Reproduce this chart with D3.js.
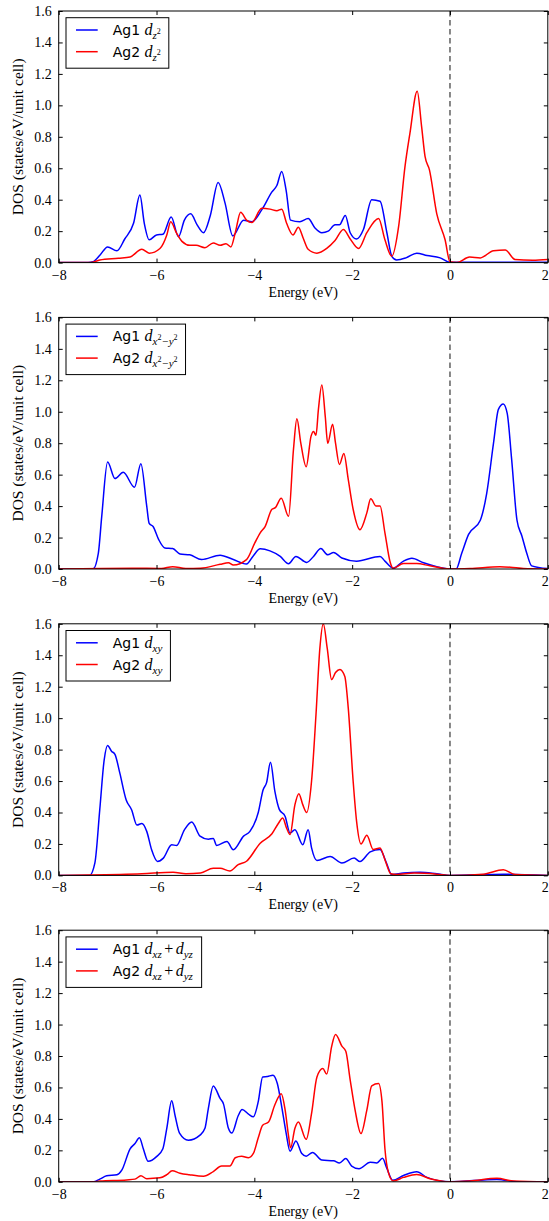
<!DOCTYPE html>
<html><head><meta charset="utf-8">
<script src="https://cdn.jsdelivr.net/npm/d3@7"></script>
<style>body{margin:0;background:#fff}svg{display:block}</style>
</head><body>
<script>
// ---------- data ----------
const energyTicks = [-8, -6, -4, -2, 0, 2];
const dosTicks = [0, 0.2, 0.4, 0.6, 0.8, 1.0, 1.2, 1.4, 1.6];
const atomNames = ["Ag1", "Ag2"];
const orbitalTex = ["d_{z^2}", "d_{x^2-y^2}", "d_{xy}", "d_{xz}+d_{yz}"];
const xLabel = "Energy (eV)";
const yLabel = "DOS (states/eV/unit cell)";

// [energy (eV), DOS]
const dz2Ag1 = [[-8,0],[-7.4,0],[-7.3,0.005],[-7.15,0.05],[-7.0,0.10],[-6.81,0.075],[-6.65,0.15],[-6.47,0.25],[-6.34,0.43],[-6.25,0.25],[-6.15,0.145],[-6.0,0.176],[-5.87,0.18],[-5.70,0.29],[-5.55,0.165],[-5.43,0.27],[-5.30,0.31],[-5.17,0.24],[-5.04,0.19],[-4.90,0.30],[-4.74,0.51],[-4.60,0.38],[-4.44,0.17],[-4.22,0.27],[-4.05,0.26],[-3.85,0.335],[-3.64,0.45],[-3.54,0.49],[-3.44,0.58],[-3.35,0.46],[-3.26,0.27],[-3.07,0.26],[-2.90,0.28],[-2.76,0.22],[-2.62,0.19],[-2.49,0.20],[-2.35,0.24],[-2.26,0.24],[-2.14,0.30],[-2.04,0.19],[-1.91,0.15],[-1.77,0.21],[-1.60,0.40],[-1.43,0.39],[-1.29,0.19],[-1.19,0.04],[-1.09,0.017],[-0.9,0.03],[-0.68,0.06],[-0.47,0.045],[-0.20,0.03],[0,0.002],[0.5,0.003],[2,0.003]];
const dz2Ag2 = [[-8,0],[-7.35,0],[-7.16,0.017],[-6.78,0.028],[-6.54,0.036],[-6.30,0.085],[-6.15,0.06],[-5.93,0.09],[-5.79,0.176],[-5.71,0.26],[-5.59,0.187],[-5.48,0.135],[-5.32,0.11],[-5.19,0.11],[-5.01,0.095],[-4.84,0.125],[-4.70,0.11],[-4.58,0.12],[-4.48,0.10],[-4.39,0.19],[-4.28,0.32],[-4.16,0.27],[-4.05,0.255],[-3.85,0.345],[-3.68,0.34],[-3.54,0.33],[-3.44,0.34],[-3.34,0.25],[-3.21,0.176],[-3.10,0.225],[-3.00,0.155],[-2.90,0.085],[-2.72,0.06],[-2.52,0.09],[-2.35,0.14],[-2.18,0.21],[-2.04,0.15],[-1.87,0.09],[-1.70,0.19],[-1.46,0.28],[-1.33,0.145],[-1.19,0.04],[-1.05,0.23],[-0.92,0.61],[-0.82,0.82],[-0.67,1.09],[-0.58,0.865],[-0.51,0.675],[-0.42,0.59],[-0.27,0.31],[-0.10,0.145],[0,0.005],[0.14,0],[0.40,0.035],[0.62,0.03],[0.89,0.076],[1.13,0.08],[1.33,0.02],[1.69,0.015],[2,0.02]];
const dx2y2Ag1 = [[-8,0],[-7.3,0],[-7.19,0.10],[-7.12,0.335],[-7.0,0.68],[-6.85,0.575],[-6.68,0.615],[-6.45,0.52],[-6.32,0.67],[-6.20,0.40],[-6.15,0.29],[-6.07,0.27],[-5.96,0.19],[-5.83,0.134],[-5.67,0.13],[-5.52,0.096],[-5.32,0.09],[-5.08,0.06],[-4.70,0.088],[-4.43,0.06],[-4.16,0.032],[-4.03,0.08],[-3.88,0.128],[-3.68,0.115],[-3.47,0.08],[-3.30,0.034],[-3.15,0.08],[-2.93,0.042],[-2.79,0.08],[-2.64,0.13],[-2.50,0.09],[-2.38,0.105],[-2.21,0.07],[-1.91,0.05],[-1.43,0.08],[-1.33,0.05],[-1.16,0.005],[-0.95,0.05],[-0.78,0.068],[-0.54,0.04],[-0.27,0.015],[0,0],[0.125,0],[0.24,0.10],[0.38,0.22],[0.62,0.31],[0.75,0.48],[0.89,0.80],[0.99,1.015],[1.09,1.05],[1.17,0.99],[1.26,0.70],[1.37,0.31],[1.47,0.21],[1.57,0.10],[1.67,0.02],[2,0.003]];
const dx2y2Ag2 = [[-8,0],[-6.5,0.005],[-5.9,0.003],[-5.67,0.015],[-5.4,0.003],[-5.1,0.005],[-4.7,0.03],[-4.53,0.04],[-4.43,0.025],[-4.16,0.06],[-3.99,0.166],[-3.88,0.23],[-3.78,0.27],[-3.64,0.38],[-3.57,0.39],[-3.45,0.45],[-3.30,0.335],[-3.20,0.76],[-3.13,0.955],[-3.05,0.80],[-2.94,0.65],[-2.84,0.845],[-2.79,0.875],[-2.74,0.85],[-2.69,1.015],[-2.62,1.17],[-2.55,0.97],[-2.50,0.80],[-2.40,0.92],[-2.34,0.80],[-2.26,0.665],[-2.17,0.735],[-2.08,0.57],[-1.98,0.38],[-1.84,0.25],[-1.70,0.357],[-1.62,0.446],[-1.51,0.40],[-1.43,0.40],[-1.33,0.23],[-1.22,0.04],[-1.16,0.005],[-0.95,0.035],[-0.68,0.035],[-0.41,0.02],[0,0],[0.41,0.003],[1.02,0.015],[1.5,0.003],[2,0]];
const dxyAg1 = [[-8,0],[-7.37,0],[-7.26,0.08],[-7.16,0.42],[-7.07,0.735],[-7.0,0.826],[-6.92,0.79],[-6.85,0.77],[-6.75,0.65],[-6.62,0.48],[-6.51,0.418],[-6.40,0.32],[-6.30,0.33],[-6.20,0.28],[-6.10,0.163],[-5.98,0.089],[-5.86,0.11],[-5.69,0.195],[-5.59,0.19],[-5.43,0.29],[-5.28,0.34],[-5.11,0.25],[-4.94,0.23],[-4.84,0.235],[-4.77,0.19],[-4.56,0.216],[-4.43,0.163],[-4.22,0.25],[-4.09,0.28],[-3.92,0.40],[-3.82,0.545],[-3.75,0.59],[-3.67,0.72],[-3.58,0.534],[-3.49,0.42],[-3.37,0.375],[-3.27,0.27],[-3.17,0.29],[-3.01,0.195],[-2.90,0.29],[-2.83,0.175],[-2.72,0.095],[-2.45,0.12],[-2.21,0.079],[-1.96,0.11],[-1.84,0.088],[-1.63,0.15],[-1.43,0.165],[-1.30,0.08],[-1.19,0.005],[-0.95,0.015],[-0.61,0.02],[-0.27,0.01],[0,0],[1.1,0.008],[2,0]];
const dxyAg2 = [[-8,0],[-7.4,0.002],[-6.3,0.01],[-5.66,0.02],[-5.4,0.01],[-5.1,0.015],[-4.84,0.045],[-4.70,0.045],[-4.50,0.028],[-4.33,0.068],[-4.16,0.09],[-3.88,0.205],[-3.64,0.265],[-3.51,0.33],[-3.42,0.365],[-3.34,0.30],[-3.27,0.26],[-3.17,0.45],[-3.09,0.52],[-3.01,0.45],[-2.93,0.40],[-2.83,0.60],[-2.74,1.02],[-2.66,1.445],[-2.59,1.60],[-2.51,1.445],[-2.42,1.245],[-2.34,1.29],[-2.25,1.31],[-2.15,1.265],[-2.08,1.065],[-1.98,0.60],[-1.91,0.345],[-1.82,0.20],[-1.70,0.255],[-1.57,0.165],[-1.43,0.175],[-1.33,0.10],[-1.21,0.01],[-1.1,0.005],[-0.73,0.015],[-0.27,0.008],[0,0],[0.68,0.008],[1.09,0.036],[1.33,0.005],[2,0]];
const dxzyzAg1 = [[-8,0],[-7.29,0],[-7.16,0.017],[-7.02,0.038],[-6.81,0.045],[-6.71,0.074],[-6.54,0.21],[-6.44,0.244],[-6.35,0.28],[-6.27,0.21],[-6.17,0.13],[-6.0,0.16],[-5.87,0.21],[-5.79,0.34],[-5.69,0.515],[-5.62,0.42],[-5.53,0.31],[-5.35,0.265],[-5.11,0.297],[-5.01,0.34],[-4.94,0.467],[-4.84,0.61],[-4.70,0.53],[-4.63,0.494],[-4.53,0.34],[-4.46,0.31],[-4.33,0.42],[-4.25,0.46],[-4.12,0.43],[-4.02,0.413],[-3.92,0.51],[-3.83,0.667],[-3.73,0.67],[-3.62,0.678],[-3.53,0.625],[-3.44,0.477],[-3.35,0.31],[-3.27,0.195],[-3.15,0.26],[-3.03,0.18],[-2.94,0.163],[-2.81,0.187],[-2.62,0.138],[-2.38,0.134],[-2.26,0.12],[-2.13,0.148],[-2.01,0.10],[-1.86,0.083],[-1.63,0.124],[-1.50,0.12],[-1.38,0.149],[-1.29,0.085],[-1.17,0.01],[-0.95,0.04],[-0.68,0.064],[-0.47,0.028],[0,0],[0.96,0.015],[1.4,0],[2,0]];
const dxzyzAg2 = [[-8,0],[-7.3,0],[-7.16,0.005],[-6.61,0.012],[-6.44,0.017],[-6.32,0.038],[-6.2,0.02],[-5.93,0.025],[-5.79,0.045],[-5.68,0.07],[-5.52,0.055],[-5.33,0.045],[-5.04,0.035],[-4.84,0.065],[-4.67,0.10],[-4.50,0.10],[-4.39,0.153],[-4.26,0.163],[-4.12,0.153],[-4.02,0.18],[-3.92,0.28],[-3.83,0.36],[-3.71,0.38],[-3.58,0.49],[-3.45,0.56],[-3.37,0.456],[-3.30,0.29],[-3.26,0.216],[-3.17,0.34],[-3.10,0.38],[-2.94,0.27],[-2.83,0.435],[-2.72,0.667],[-2.60,0.72],[-2.52,0.685],[-2.42,0.86],[-2.34,0.937],[-2.21,0.863],[-2.13,0.83],[-2.04,0.647],[-1.94,0.456],[-1.82,0.307],[-1.70,0.456],[-1.60,0.61],[-1.46,0.625],[-1.39,0.51],[-1.33,0.21],[-1.26,0.06],[-1.16,0.005],[-0.95,0.028],[-0.68,0.047],[-0.41,0.02],[0,0],[0.41,0.005],[0.96,0.022],[1.3,0.005],[2,0]];

const panelSeries = [[dz2Ag1, dz2Ag2], [dx2y2Ag1, dx2y2Ag2], [dxyAg1, dxyAg2], [dxzyzAg1, dxzyzAg2]];
const seriesColors = ["#0000ff", "#ff0000"];

// ---------- layout ----------
const W = 549, Hsvg = 1221;
const left = 58.7, right = 547.8;
const panelTop0 = 11, panelStep = 306.4, panelH = 251.6;
const serif = "'Liberation Serif','Times New Roman',serif";
const sans = "'DejaVu Sans',sans-serif";

const svg = d3.select("body").append("svg").attr("width", W).attr("height", Hsvg);
const x = d3.scaleLinear().domain([-8, 2]).range([left, right]);

function parseTex(tex) {
  const out = [];
  let i = 0, lvl = 0;
  while (i < tex.length) {
    const c = tex[i];
    if (c === "_" && tex[i+1] === "{") { lvl = 1; i += 2; continue; }
    if (c === "}") { lvl = 0; i++; continue; }
    if (c === "^") { out.push({t: tex[i+1], lvl: lvl === 1 ? 2 : 3, it: false}); i += 2; continue; }
    if (c === "-") { out.push({t: "\u2212", lvl, it: false, bin: true}); i++; continue; }
    if (c === "+") { out.push({t: "+", lvl, it: false, bin: true}); i++; continue; }
    out.push({t: c, lvl, it: true}); i++;
  }
  return out;
}
const lvlSize = [16, 11, 8, 10];
const lvlOff = [0, 4, -1.5, -5];

panelSeries.forEach((series, p) => {
  const top = panelTop0 + p * panelStep;
  const bottom = top + panelH;
  const y = d3.scaleLinear().domain([0, 1.6]).range([bottom, top]);
  const g = svg.append("g");

  const clipId = "clip" + p;
  g.append("clipPath").attr("id", clipId).append("rect")
    .attr("x", left).attr("y", top).attr("width", right - left).attr("height", panelH);

  // Fermi level
  g.append("line").attr("x1", x(0)).attr("x2", x(0)).attr("y1", top).attr("y2", bottom)
    .attr("stroke", "#555").attr("stroke-width", 1.4).attr("stroke-dasharray", "5.5,3.5");

  const line = d3.line().x(d => x(d[0])).y(d => y(d[1])).curve(d3.curveMonotoneX);
  const curves = g.append("g").attr("clip-path", `url(#${clipId})`);
  series.forEach((s, k) => {
    curves.append("path").datum(s).attr("d", line).attr("fill", "none")
      .attr("stroke", seriesColors[k]).attr("stroke-width", 1.5).attr("stroke-linejoin", "round");
  });

  const axB = g.append("g").attr("transform", `translate(0,${bottom})`)
    .call(d3.axisBottom(x).tickValues(energyTicks).tickSize(-4).tickPadding(7));
  const axT = g.append("g").attr("transform", `translate(0,${top})`)
    .call(d3.axisTop(x).tickValues(energyTicks).tickSize(-4).tickFormat(""));
  const axL = g.append("g").attr("transform", `translate(${left},0)`)
    .call(d3.axisLeft(y).tickValues(dosTicks).tickSize(-4).tickPadding(7).tickFormat(d3.format(".1f")));
  const axR = g.append("g").attr("transform", `translate(${right},0)`)
    .call(d3.axisRight(y).tickValues(dosTicks).tickSize(-4).tickFormat(""));
  [axB, axT, axL, axR].forEach(a => {
    a.attr("font-family", serif).attr("font-size", 14);
    a.select(".domain").remove();
    a.selectAll("line").attr("stroke", "#000").attr("stroke-width", 1);
    a.selectAll("text").attr("font-family", serif).attr("font-size", 14).attr("fill", "#000");
  });
  axB.selectAll(".tick text").filter(d => d === energyTicks[energyTicks.length - 1]).attr("dx", -3);

  g.append("rect").attr("x", left).attr("y", top).attr("width", right - left).attr("height", panelH)
    .attr("fill", "none").attr("stroke", "#000").attr("stroke-width", 1);

  g.append("text").attr("x", (left + right) / 2).attr("y", bottom + 34)
    .attr("text-anchor", "middle").attr("font-family", serif).attr("font-size", 14).text(xLabel);
  g.append("text").attr("transform", `translate(23,${(top + bottom) / 2}) rotate(-90)`)
    .attr("text-anchor", "middle").attr("font-family", serif).attr("font-size", 15.5).text(yLabel);

  // legend
  const lg = g.append("g");
  const box = lg.append("rect").attr("x", left + 7.3).attr("y", top + 6.7).attr("height", 50.5)
    .attr("fill", "#fff").attr("stroke", "#000").attr("stroke-width", 1);
  let maxRight = 0;
  atomNames.forEach((name, k) => {
    const cy = top + 19 + k * 21.7;
    lg.append("line").attr("x1", left + 17.3).attr("x2", left + 39).attr("y1", cy).attr("y2", cy)
      .attr("stroke", seriesColors[k]).attr("stroke-width", 1.5);
    const t = lg.append("text").attr("x", left + 54).attr("y", cy + 5).attr("fill", "#000");
    t.append("tspan").attr("font-family", sans).attr("font-size", 14).text(name + " ");
    let cur = 0, pending = 0;
    parseTex(orbitalTex[p]).forEach(tok => {
      const off = lvlOff[tok.lvl];
      const gap = tok.bin ? (tok.lvl === 0 ? 2.5 : 0.5) : 0;
      t.append("tspan").attr("font-family", serif).attr("font-size", lvlSize[tok.lvl])
        .attr("font-style", tok.it ? "italic" : "normal")
        .attr("dx", pending + gap).attr("dy", off - cur).text(tok.t);
      cur = off;
      pending = gap;
    });
    const bb = t.node().getBBox();
    maxRight = Math.max(maxRight, bb.x + bb.width);
  });
  box.attr("width", maxRight + 8 - (left + 7.3));
});
</script>
</body></html>
